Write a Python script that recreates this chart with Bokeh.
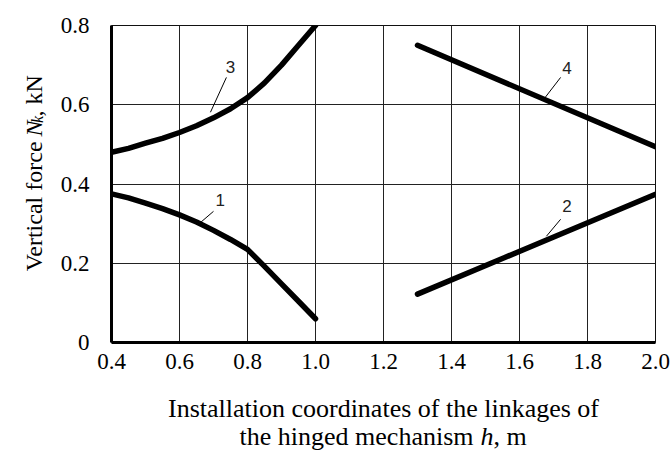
import math
from bokeh.plotting import figure
from bokeh.models import Label, FixedTicker, ColumnDataSource, Range1d
from bokeh.layouts import column, row
from bokeh.embed import file_html
from bokeh.resources import INLINE

# ---- data ----
x_ticks = [0.4, 0.6, 0.8, 1.0, 1.2, 1.4, 1.6, 1.8, 2.0]
y_ticks = [0.0, 0.2, 0.4, 0.6, 0.8]
y_tick_labels = {0.0: "0", 0.2: "0.2", 0.4: "0.4", 0.6: "0.6", 0.8: "0.8"}

c1_x = [0.4, 0.45, 0.5, 0.55, 0.6, 0.65, 0.7, 0.75, 0.8, 0.85, 0.9, 0.95, 1.0]
c1_y = [0.375, 0.365, 0.352, 0.338, 0.322, 0.304, 0.283, 0.26, 0.235, 0.192, 0.148, 0.104, 0.06]
c2_x = [1.3, 2.0]
c2_y = [0.122, 0.374]
c3_x = [0.4, 0.45, 0.5, 0.55, 0.6, 0.65, 0.7, 0.75, 0.8, 0.85, 0.9, 0.95, 1.0]
c3_y = [0.48, 0.49, 0.503, 0.515, 0.53, 0.547, 0.567, 0.59, 0.618, 0.655, 0.70, 0.75, 0.80]
c4_x = [1.3, 2.0]
c4_y = [0.75, 0.494]

curve_names = ["1", "2", "3", "4"]
name_x = [0.72, 1.74, 0.75, 1.74]
name_y = [0.36, 0.345, 0.695, 0.692]
lead_x0 = [0.70, 1.721, 0.738, 1.721]
lead_y0 = [0.331, 0.311, 0.669, 0.669]
lead_x1 = [0.662, 1.679, 0.691, 1.676]
lead_y1 = [0.303, 0.268, 0.581, 0.619]

x_title_1 = "Installation coordinates of the linkages of"
x_title_2 = ["the hinged mechanism", "h", ", m"]
y_title = ["Vertical force", "N", "k", ", kN"]

SERIF = "Liberation Serif"
SANS = "Liberation Sans"
W, H = 670, 450
YT_W = 50          # width of the strip holding the vertical title
TOP_H = 380        # height of the row holding the chart
FL, FB = 111, 342  # frame left / bottom in page px

def text_strip(w, h, y_top):
    f = figure(width=w, height=h, output_backend="svg", toolbar_location=None,
               x_range=Range1d(0, w), y_range=Range1d(y_top + h, y_top),
               x_axis_type=None, y_axis_type=None,
               min_border=0, min_border_left=0, min_border_right=0,
               min_border_top=0, min_border_bottom=0)
    f.outline_line_color = None
    f.background_fill_color = "white"
    f.border_fill_color = "white"
    f.grid.visible = False
    return f

# ---- main chart ----
p = figure(width=W - YT_W, height=TOP_H, output_backend="svg", toolbar_location=None,
           x_range=Range1d(0.4, 2.0), y_range=Range1d(0, 0.8),
           min_border_left=FL - YT_W, min_border_right=15, min_border_top=25,
           min_border_bottom=TOP_H - FB)
p.background_fill_color = "white"
p.border_fill_color = "white"
p.outline_line_color = "#111111"
p.outline_line_width = 1

p.xaxis.ticker = FixedTicker(ticks=x_ticks)
p.yaxis.ticker = FixedTicker(ticks=y_ticks)
p.yaxis.major_label_overrides = y_tick_labels
p.xaxis.major_label_overrides = {t: f"{t:.1f}" for t in x_ticks}
for ax in (p.xaxis, p.yaxis):
    ax.axis_line_width = 3
    ax.axis_line_color = "black"
    ax.major_tick_line_color = None
    ax.minor_tick_line_color = None
    ax.major_tick_out = 0
    ax.major_tick_in = 0
    ax.major_label_text_font = SERIF
    ax.major_label_text_font_size = "23px"
    ax.major_label_text_color = "black"
p.yaxis.major_label_standoff = 22
p.xaxis.major_label_standoff = 11

p.xgrid.ticker = FixedTicker(ticks=x_ticks)
p.ygrid.ticker = FixedTicker(ticks=y_ticks)
for g in (p.xgrid, p.ygrid):
    g.grid_line_color = "#222222"
    g.grid_line_width = 1
    g.grid_line_alpha = 1

for xs, ys in ((c1_x, c1_y), (c2_x, c2_y), (c3_x, c3_y), (c4_x, c4_y)):
    p.line(xs, ys, line_color="black", line_width=5.5, line_cap="round", line_join="round")

src = ColumnDataSource(dict(x0=lead_x0, y0=lead_y0, x1=lead_x1, y1=lead_y1))
p.segment(x0="x0", y0="y0", x1="x1", y1="y1", source=src, line_color="black", line_width=1)
for t, xx, yy in zip(curve_names, name_x, name_y):
    p.add_layout(Label(x=xx, y=yy, text=t, text_font=SANS, text_font_size="17px",
                       text_align="center", text_baseline="middle", text_color="#222222"))

def lab(fig, x, y, text, size="26px", style="normal", align="left", angle=0.0):
    fig.add_layout(Label(x=x, y=y, angle=angle, text=text, text_font=SERIF,
                         text_font_style=style, text_font_size=size, text_align=align,
                         text_baseline="alphabetic", text_color="black"))

# ---- vertical title strip (data units = page px) ----
yfig = text_strip(YT_W, TOP_H, 0)
A = math.pi / 2
lab(yfig, 33, 139, y_title[0], size="24px", align="right", angle=A)
lab(yfig, 33, 133, y_title[1], size="24px", style="italic", angle=A)
lab(yfig, 37, 117, y_title[2], size="16px", style="italic", angle=A)
lab(yfig, 33, 109, y_title[3], size="24px", angle=A)

# ---- horizontal title strip (data units = page px) ----
xfig = text_strip(W, H - TOP_H, TOP_H)
lab(xfig, 383, 408, x_title_1, align="center")
lab(xfig, 473, 436, x_title_2[0], align="right")
lab(xfig, 480, 436, x_title_2[1], style="italic")
lab(xfig, 493, 436, x_title_2[2])

layout = column(row(yfig, p, spacing=0), xfig, spacing=0)
open("out.html", "w").write(file_html(layout, INLINE))
